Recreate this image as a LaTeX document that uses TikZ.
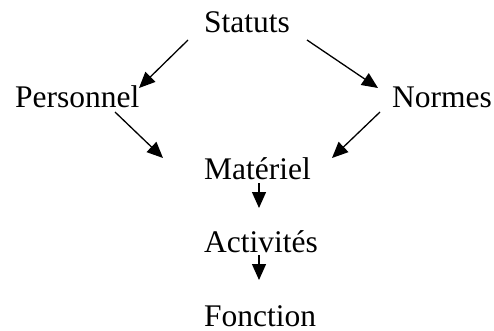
\documentclass[tikz,border=0pt]{standalone}
\usepackage{fontspec}
\setmainfont{Liberation Serif}
\usetikzlibrary{arrows.meta,calc}
\begin{document}
\begin{tikzpicture}[x=1pt,y=-1pt,
  lbl/.style={inner sep=0pt,font=\fontsize{31.5}{36}\selectfont},
  arr/.style={line width=1.3pt,-{Triangle[length=16pt,width=14pt]}}]
\useasboundingbox (0,0) rectangle (494,330);
\node[lbl,anchor=base west] (statuts) at (204,32) {Statuts};
\node[lbl,anchor=base west] (personnel) at (15,107) {Personnel};
\node[lbl,anchor=base west] (normes) at (392,107) {Normes};
\node[lbl,anchor=base west] (materiel) at (204,179) {Matériel};
\node[lbl,anchor=base west] (activites) at (204,252) {Activités};
\node[lbl,anchor=base west] (fonction) at (204,326) {Fonction};
\draw[arr] ($(statuts.base west)+(-16,8)$) -- ($(personnel.base west)+(124,-19)$);
\draw[arr] ($(statuts.base west)+(103,8)$) -- ($(normes.base west)+(-14,-19)$);
\draw[arr] ($(personnel.base west)+(100,5)$) -- ($(materiel.base west)+(-41,-21)$);
\draw[arr] ($(normes.base west)+(-12,5)$) -- ($(materiel.base west)+(128,-21)$);
\draw[arr] ($(materiel.base west)+(55,4)$) -- ($(activites.base west)+(55,-44)$);
\draw[arr] ($(activites.base west)+(55,3)$) -- ($(fonction.base west)+(55,-46)$);
\end{tikzpicture}
\end{document}
